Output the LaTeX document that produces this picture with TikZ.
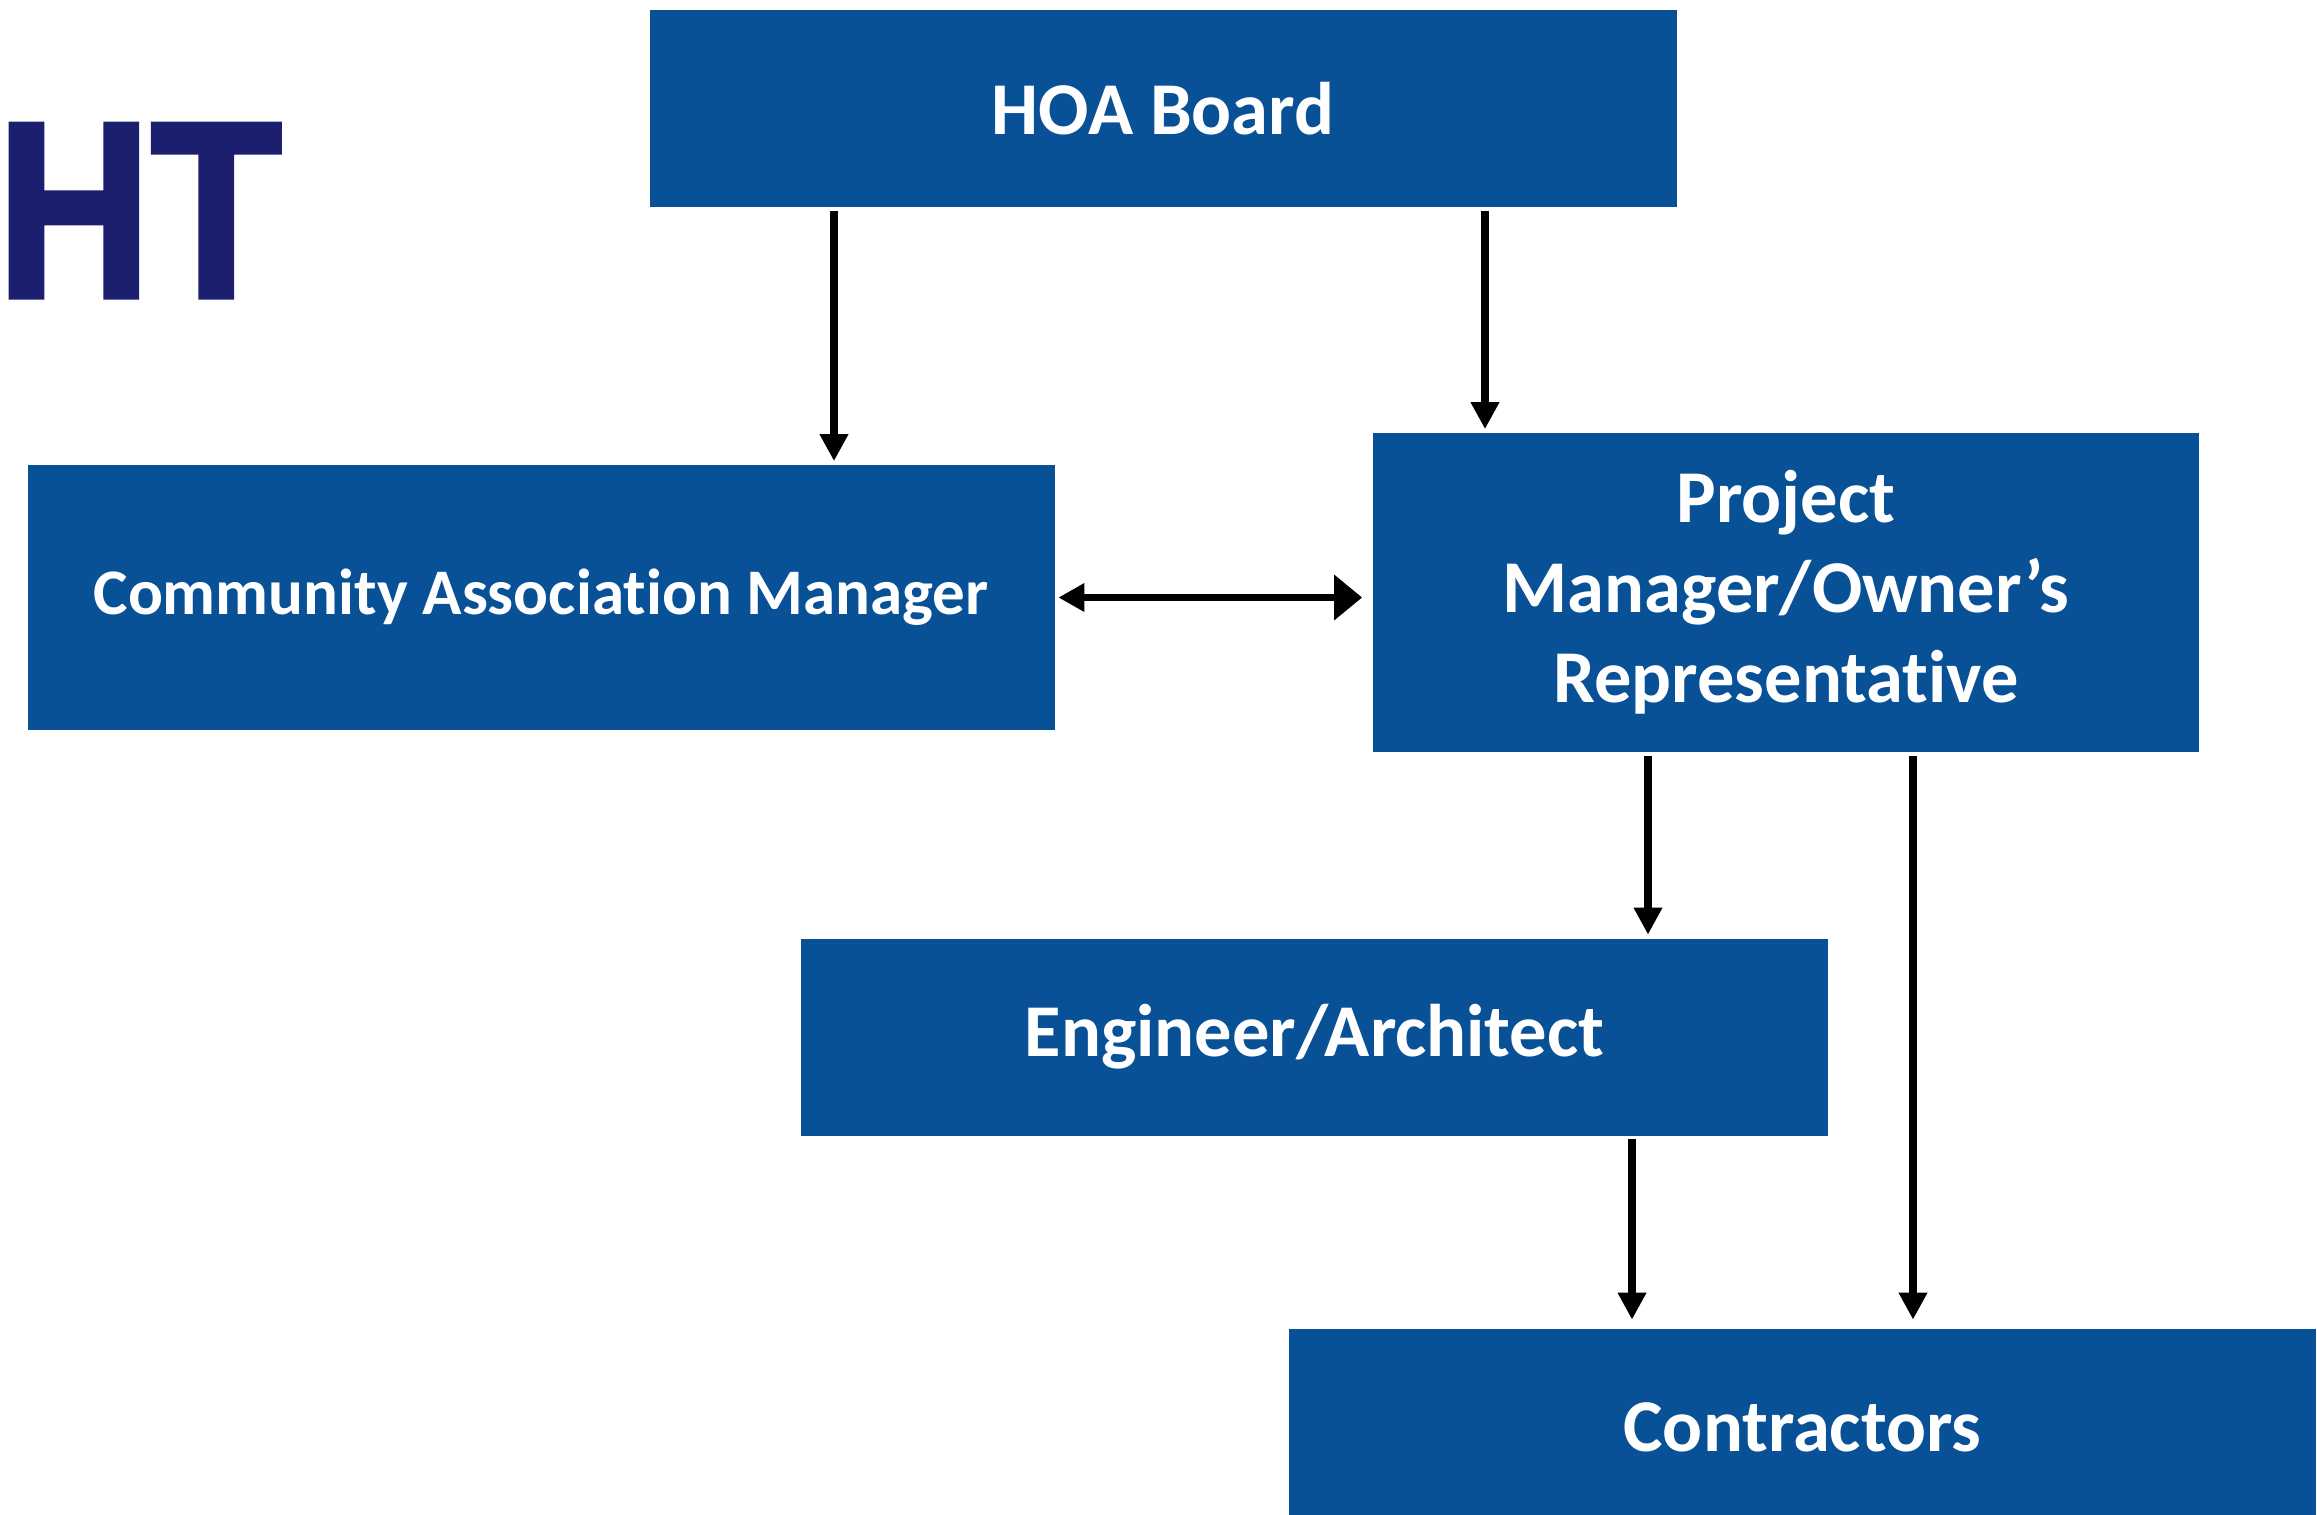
\documentclass[tikz,border=0pt]{standalone}
\usepackage{fontspec}
\setmainfont{Carlito}[Ligatures=NoCommon]
\newfontfamily\titlefont{Liberation Sans}[BoldFeatures={FakeStretch=0.85, FakeBold=2}]
\usetikzlibrary{arrows.meta}
\definecolor{hoablue}{RGB}{8,81,151}
\definecolor{titlenavy}{RGB}{28,30,110}

\begin{document}
\begin{tikzpicture}[>={Triangle[length=0.27cm, width=0.27cm]}, line width=2.2pt,
    box/.style={fill=hoablue, text=white, align=center, inner sep=0pt,
        font=\bfseries\fontsize{21.2}{25.6}\selectfont,
        minimum width=10.27cm, minimum height=1.97cm}]
    \useasboundingbox (0,0) rectangle (23.17,-15.15);

    % Chữ tiêu đề (bị cắt ở mép trái)
    \node[anchor=base west, inner sep=0pt, text=titlenavy,
        font=\titlefont\bfseries\fontsize{71.5}{71.5}\selectfont] (title) at (-0.07,-2.97) {HT};

    % Các hộp
    \node[box] (hoa) at (11.63,-1.085) {HOA Board};
    \node[box, minimum height=2.65cm, font=\bfseries\fontsize{18.5}{23}\selectfont] (cam) at (5.41,-5.975) {Community Association Manager};
    \node[box, minimum width=8.26cm, minimum height=3.19cm] (pm) at (17.86,-5.925) {Project\\Manager/Owner’s\\Representative};
    \node[box] (eng) at (13.145,-10.37) {Engineer/Architect};
    \node[box] (con) at (18.025,-14.27) {Contractors};

    % Mũi tên
    \draw[->] ([xshift=-3.29cm]hoa.south) -- ([xshift=-3.29cm]hoa.south |- cam.north);
    \draw[->] ([xshift=3.22cm]hoa.south) -- ([xshift=3.22cm]hoa.south |- pm.north);
    \draw[{Triangle[length=0.26cm, width=0.27cm]}-{Triangle[length=0.28cm, width=0.44cm]}, shorten >=0.07cm]
        (cam.east) -- (cam.east -| pm.west);
    \draw[->] ([xshift=-1.38cm]pm.south) -- ([xshift=-1.38cm]pm.south |- eng.north);
    \draw[->, shorten >=0.05cm] ([xshift=3.175cm]eng.south) -- ([xshift=3.175cm]eng.south |- con.north);
    \draw[->, shorten >=0.05cm] ([xshift=1.27cm]pm.south) -- ([xshift=1.27cm]pm.south |- con.north);
\end{tikzpicture}
\end{document}
